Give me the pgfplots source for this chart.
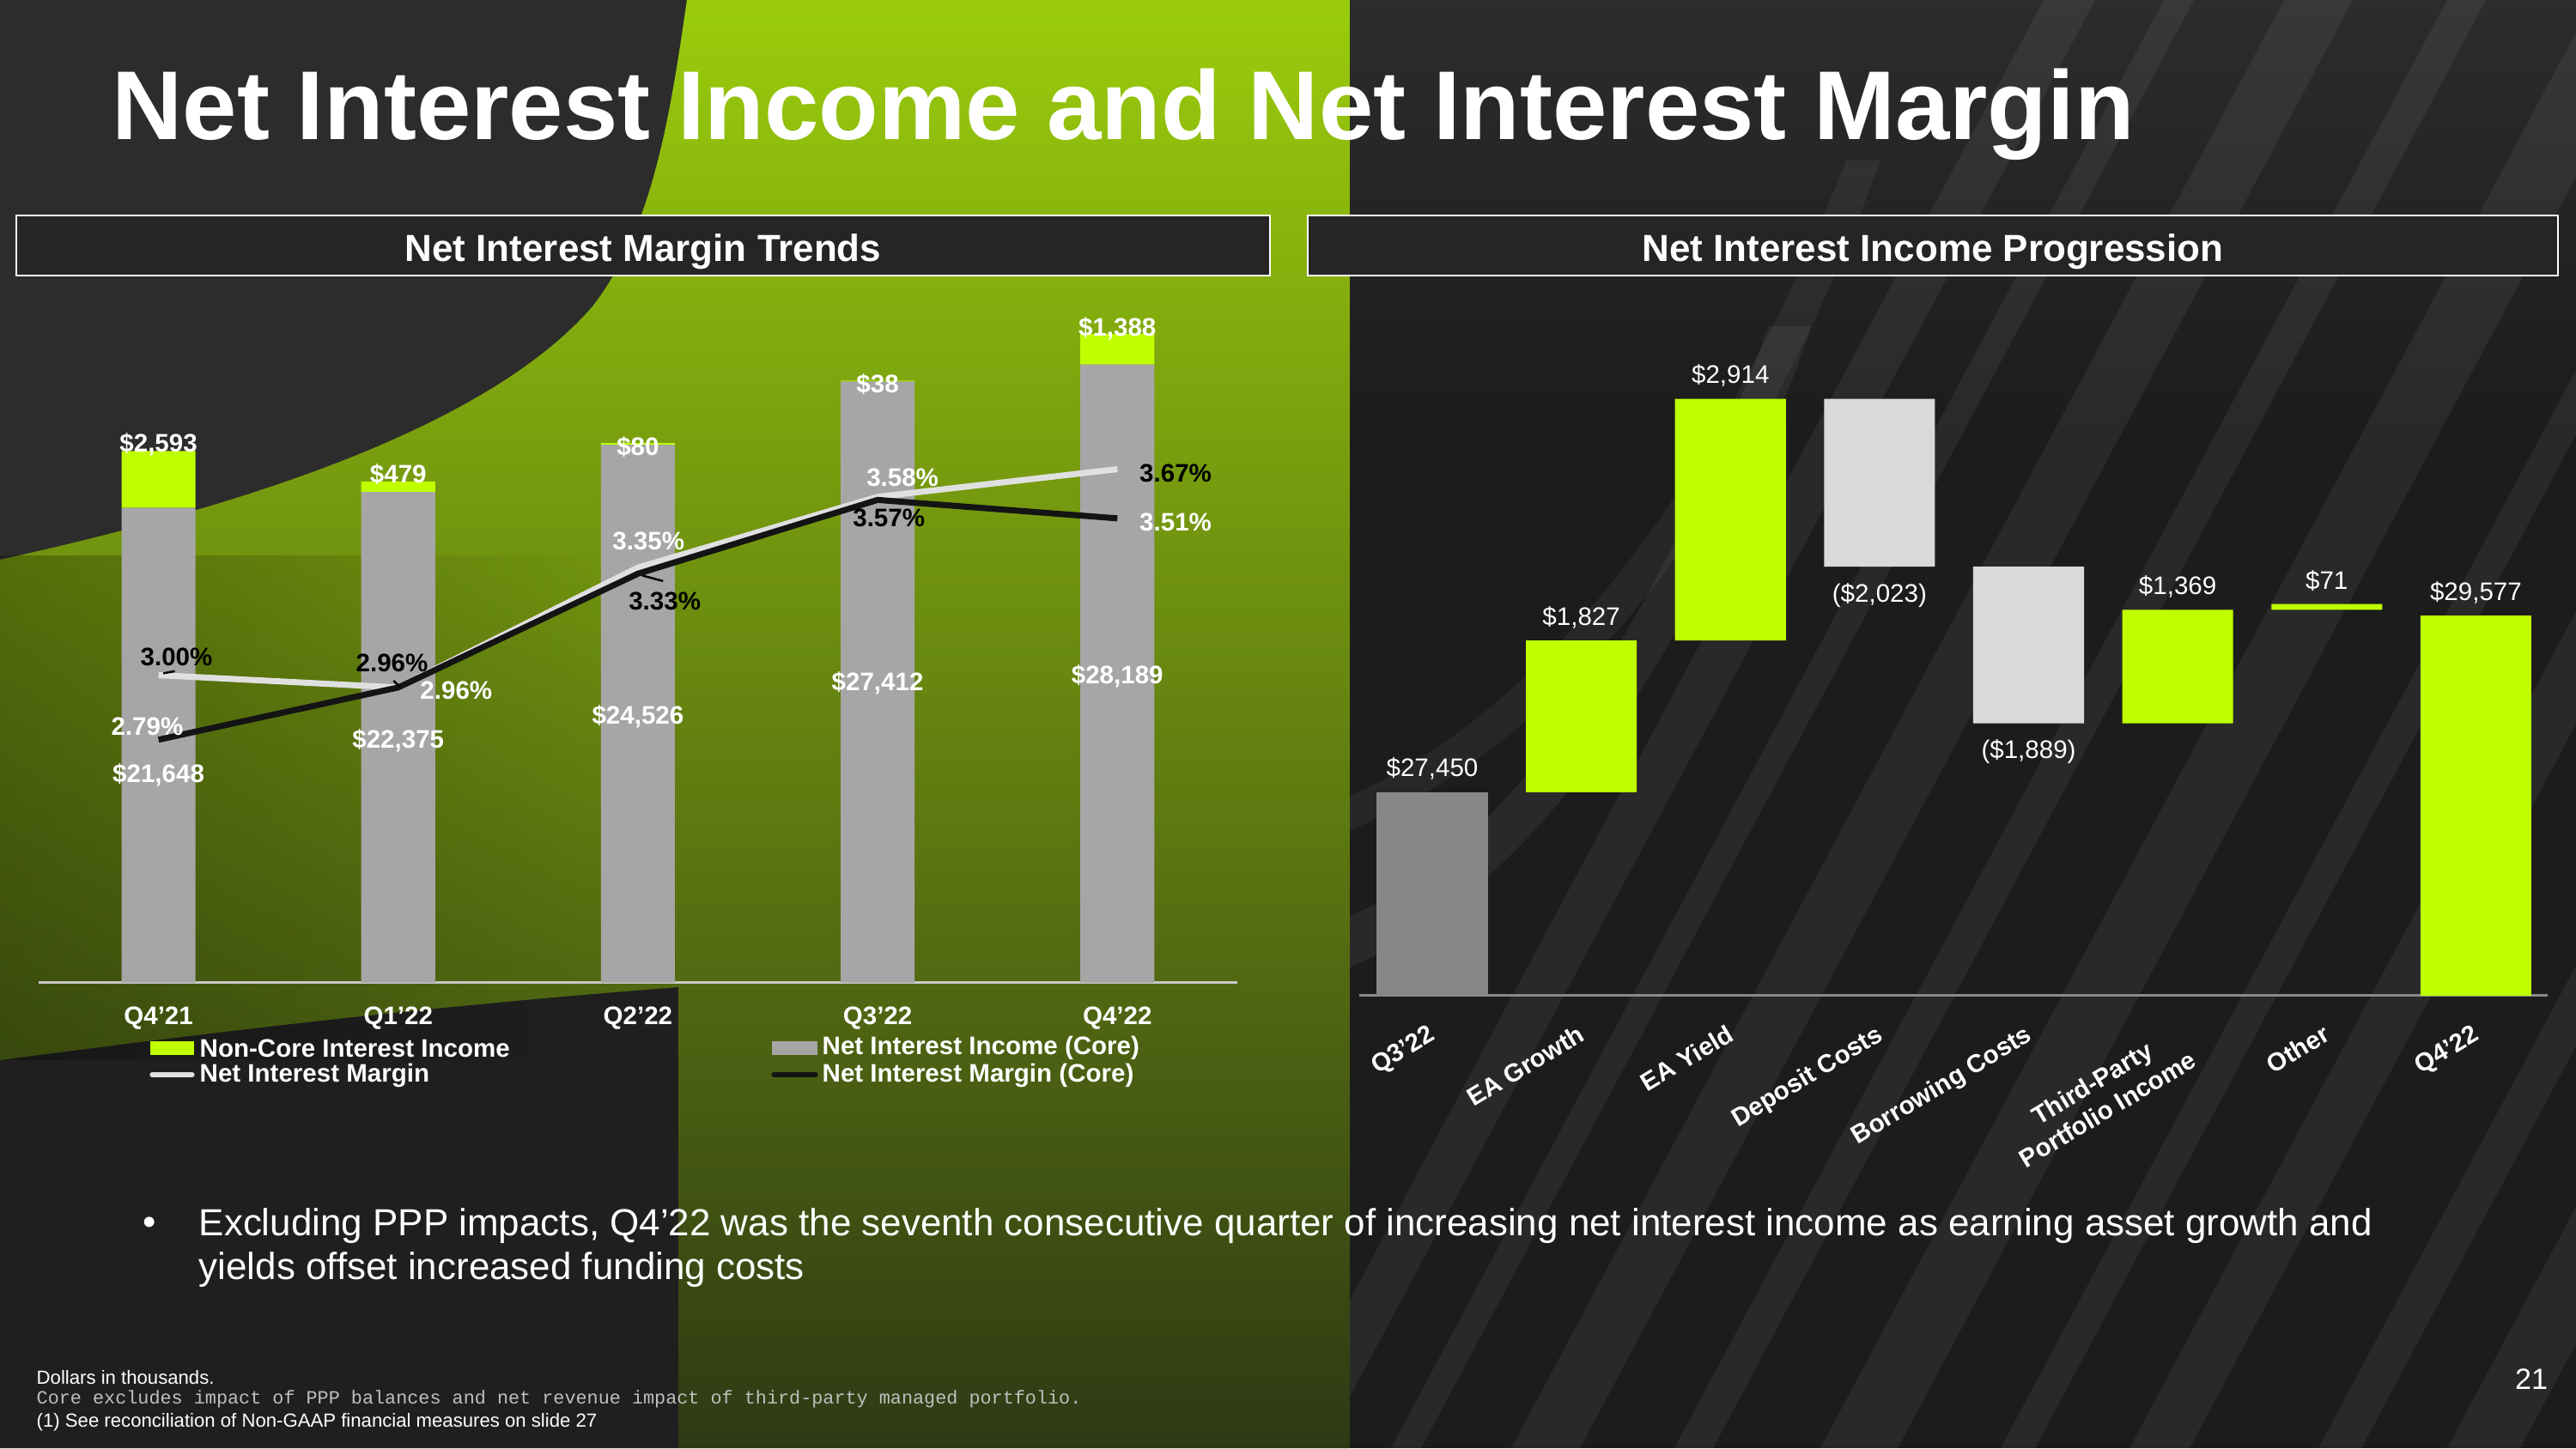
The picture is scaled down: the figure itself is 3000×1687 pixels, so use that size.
\documentclass[border=0pt]{standalone}
\usepackage{pgfplots}
\pgfplotsset{compat=1.18}
\usepackage{fontspec}
\setmainfont{Liberation Sans}
\setmonofont{Liberation Mono}
\usetikzlibrary{fadings}

\definecolor{bgdark}{HTML}{2C2C2C}
\definecolor{bgdeep}{HTML}{1F1F1F}
\definecolor{rdark}{HTML}{1C1C1C}
\definecolor{gtop}{HTML}{9ACC0C}
\definecolor{gmid}{HTML}{5E8A17}
\definecolor{gbot}{HTML}{2E3914}
\definecolor{barGreen}{RGB}{191,255,0}
\definecolor{coreGrey}{HTML}{A6A6A6}
\definecolor{qGrey}{HTML}{878787}
\definecolor{decGrey}{HTML}{D9D9D9}
\definecolor{nimWhite}{HTML}{E0E0E0}
\definecolor{nimBlack}{HTML}{141414}
\definecolor{boxFill}{HTML}{252525}
\definecolor{axisL}{HTML}{C8C8C8}
\definecolor{axisR}{HTML}{8A8A8A}

\newcommand\labfont{\fontsize{8.4}{10}\selectfont\bfseries}
\newcommand\wlabfont{\fontsize{8.4}{10}\selectfont}

\begin{document}
\begin{tikzpicture}[x=0.01cm,y=0.01cm]
\useasboundingbox (0,0) rectangle (3000,1687);
% ---------------- background ----------------
\begin{scope}
\clip (0,0) rectangle (3000,1687);
\fill[bgdark] (0,0) rectangle (3000,1687);
\fill[bgdeep] (0,0) -- (790,0) -- (790,537) .. controls (500,515) and (250,485) .. (0,452) -- cycle;
\shade[top color=gtop, middle color=gmid, bottom color=gbot]
  (800,1687) -- (1572,1687) -- (1572,0) -- (790,0) -- (790,537)
  .. controls (500,515) and (250,485) .. (0,452) -- (0,1035)
  .. controls (250,1090) and (560,1180) .. (690,1330)
  .. controls (760,1420) and (780,1550) .. (800,1687) -- cycle;
\fill[black, opacity=0.25, path fading=east] (0,452) rectangle (700,1040);
% right panel
\fill[rdark] (1572,0) rectangle (3000,1687);
\shade[top color=bgdark, bottom color=rdark] (1572,1180) rectangle (3000,1687);
\begin{scope}
\clip (1572,0) rectangle (3000,1687);
\foreach \x/\w in {1480/60,1620/35,1760/80,1950/45,2120/90,2330/40,2480/70,2700/50,2850/85}{
  \fill[white, opacity=0.06] (\x,0) -- ++(\w,0) -- ++(900,1687) -- ++(-\w,0) -- cycle;
}
\fill[white, opacity=0.06] (1572,620) .. controls (1760,700) and (1930,960) .. (2060,1307)
  -- (2110,1307) .. controls (1980,940) and (1800,660) .. (1572,560) -- cycle;
\fill[white, opacity=0.05] (1572,760) .. controls (1800,860) and (2000,1120) .. (2150,1500)
  -- (2190,1500) .. controls (2040,1090) and (1820,820) .. (1572,720) -- cycle;
\end{scope}
\end{scope}

% ---------------- title and section boxes ----------------
\node[anchor=base west, text=white, inner sep=0pt, font=\fontsize{32.4}{38}\selectfont\bfseries] at (130,1524) {Net Interest Income and Net Interest Margin};
\draw[white, line width=0.8pt, fill=boxFill] (19,1436) rectangle (1479,1366);
\draw[white, line width=0.8pt, fill=boxFill] (1523,1436) rectangle (2979,1366);
\node[text=white, font=\fontsize{12.5}{15}\selectfont\bfseries] at (749,1394) {Net Interest Margin Trends};
\node[text=white, font=\fontsize{12.5}{15}\selectfont\bfseries] at (2251,1394) {Net Interest Income Progression};

% ---------------- left chart: bars ----------------
\begin{axis}[
  at={(0.45cm,5.42cm)}, anchor=south west, scale only axis,
  width=13.95cm, height=7.95cm,
  xmin=-0.5, xmax=4.5, ymin=0, ymax=31140,
  ybar stacked, bar width=0.86cm,
  axis x line=bottom, axis y line=none,
  x axis line style={draw=axisL, line width=0.9pt, -},
  xtick={0,1,2,3,4}, xticklabels={Q4'21,Q1'22,Q2'22,Q3'22,Q4'22},
  xtick style={draw=none}, major tick length=0pt,
  xticklabel style={font=\labfont, text=white, anchor=center, yshift=-11.8pt},
]
\addplot[fill=coreGrey, draw=none] coordinates {(0,21648) (1,22375) (2,24526) (3,27412) (4,28189)};
\addplot[fill=barGreen, draw=none] coordinates {(0,2593) (1,479) (2,80) (3,38) (4,1388)};
\end{axis}

% ---------------- left chart: bar labels ----------------
\begin{axis}[
  at={(0.45cm,5.42cm)}, anchor=south west, scale only axis,
  width=13.95cm, height=7.95cm,
  xmin=-0.5, xmax=4.5, ymin=0, ymax=31140, hide axis, clip=false,
  every node near coord/.style={font=\labfont, text=white, anchor=center, inner sep=0pt},
]
\addplot[draw=none, mark=none, nodes near coords, point meta=explicit symbolic]
  coordinates {(0,24559)[\$2,593] (1,23188)[\$479] (2,24442)[\$80] (3,27301)[\$38] (4,29808)[\$1,388]};
\addplot[draw=none, mark=none, nodes near coords, point meta=explicit symbolic]
  coordinates {(0,9479)[\$21,648] (1,11046)[\$22,375] (2,12142)[\$24,526] (3,13670)[\$27,412] (4,13984)[\$28,189]};
\end{axis}

% ---------------- left chart: margin lines ----------------
\begin{axis}[
  at={(0.45cm,5.42cm)}, anchor=south west, scale only axis,
  width=13.95cm, height=7.95cm,
  xmin=-0.5, xmax=4.5, ymin=2.0, ymax=4.221, hide axis, clip=false,
]
\addplot[nimWhite, line width=2pt, mark=none] coordinates {(0,3.00) (1,2.96) (2,3.35) (3,3.58) (4,3.67)};
\addplot[nimBlack, line width=2pt, mark=none] coordinates {(0,2.79) (1,2.96) (2,3.33) (3,3.57) (4,3.51)};
% label leader lines
\draw[black, line width=0.7pt] (axis cs:0.02,3.006) -- (axis cs:0.068,3.013);
\draw[black, line width=0.7pt] (axis cs:0.981,2.982) -- (axis cs:1.006,2.962);
\draw[black, line width=0.7pt] (axis cs:2.019,3.324) -- (axis cs:2.105,3.306);
\addplot[draw=none, mark=none, nodes near coords, point meta=explicit symbolic,
  every node near coord/.style={font=\labfont, text=black, anchor=center, inner sep=0pt}]
  coordinates {(0.075,3.059)[3.00\%] (0.974,3.039)[2.96\%] (2.112,3.240)[3.33\%] (3.047,3.511)[3.57\%] (4.243,3.657)[3.67\%]};
\addplot[draw=none, mark=none, nodes near coords, point meta=explicit symbolic,
  every node near coord/.style={font=\labfont, text=white, anchor=center, inner sep=0pt}]
  coordinates {(-0.047,2.833)[2.79\%] (1.242,2.950)[2.96\%] (2.044,3.436)[3.35\%] (3.104,3.643)[3.58\%] (4.243,3.497)[3.51\%]};
\end{axis}

% ---------------- left chart: legend ----------------
\fill[barGreen] (175,458) rectangle (226,474);
\node[anchor=west, font=\labfont, text=white, inner sep=0pt] at (232,466) {Non-Core Interest Income};
\draw[nimWhite, line width=1.5pt, line cap=round] (177,435) -- (224,435);
\node[anchor=west, font=\labfont, text=white, inner sep=0pt] at (232,434) {Net Interest Margin};
\fill[coreGrey] (899,458) rectangle (952,474);
\node[anchor=west, font=\labfont, text=white, inner sep=0pt] at (957,466) {Net Interest Income (Core)};
\draw[nimBlack, line width=1.5pt, line cap=round] (901,435) -- (950,435);
\node[anchor=west, font=\labfont, text=white, inner sep=0pt] at (957,434) {Net Interest Margin (Core)};

% ---------------- right chart: waterfall ----------------
\begin{axis}[
  at={(15.82cm,5.27cm)}, anchor=south west, scale only axis,
  width=13.83cm, height=7.60cm,
  xmin=-0.49, xmax=7.48, ymin=25000, ymax=32867,
  ybar stacked, bar width=1.29cm,
  axis x line=bottom, axis y line=none,
  x axis line style={draw=axisR, line width=0.9pt, -},
  xtick={0,1,2,3,4,5,6,7},
  xticklabels={Q3'22,EA Growth,EA Yield,Deposit Costs,Borrowing Costs,{Third-Party\\Portfolio Income},Other,Q4'22},
  xtick style={draw=none}, major tick length=0pt,
  xticklabel style={font=\labfont, text=white, rotate=31, anchor=north east, align=center, inner sep=0pt, yshift=-7pt, xshift=-6pt},
]
\addplot[fill=none, draw=none] coordinates {(0,0) (1,27450) (2,29277) (3,30168) (4,28279) (5,28279) (6,29648) (7,0)};
\addplot[fill=qGrey, draw=none] coordinates {(0,27450) (1,0) (2,0) (3,0) (4,0) (5,0) (6,0) (7,0)};
\addplot[fill=barGreen, draw=none] coordinates {(0,0) (1,1827) (2,2914) (3,0) (4,0) (5,1369) (6,71) (7,29577)};
\addplot[fill=decGrey, draw=none] coordinates {(0,0) (1,0) (2,0) (3,2023) (4,1889) (5,0) (6,0) (7,0)};
\end{axis}

\begin{axis}[
  at={(15.82cm,5.27cm)}, anchor=south west, scale only axis,
  width=13.83cm, height=7.60cm,
  xmin=-0.49, xmax=7.48, ymin=25000, ymax=32867, hide axis, clip=false,
]
\addplot[draw=none, mark=none, nodes near coords, point meta=explicit symbolic,
  every node near coord/.style={font=\wlabfont, text=white, anchor=center, inner sep=0pt, yshift=7.7pt}]
  coordinates {(0,27450)[\$27,450] (1,29277)[\$1,827] (2,32191)[\$2,914] (5,29648)[\$1,369] (6,29719)[\$71] (7,29577)[\$29,577]};
\addplot[draw=none, mark=none, nodes near coords, point meta=explicit symbolic,
  every node near coord/.style={font=\wlabfont, text=white, anchor=center, inner sep=0pt, yshift=-9.4pt}]
  coordinates {(3,30168)[(\$2,023)] (4,28279)[(\$1,889)]};
\end{axis}

% ---------------- bullet and footer ----------------
\node[text=white, font=\fontsize{12.5}{14.5}\selectfont] at (174,259) {•};
\node[anchor=base west, text=white, inner sep=0pt, font=\fontsize{12.5}{14.5}\selectfont] at (231,248) {Excluding PPP impacts, Q4’22 was the seventh consecutive quarter of increasing net interest income as earning asset growth and};
\node[anchor=base west, text=white, inner sep=0pt, font=\fontsize{12.5}{14.5}\selectfont] at (231,197) {yields offset increased funding costs};
\node[anchor=west, text=white, inner sep=0pt, font=\fontsize{6.3}{7.5}\selectfont] at (42,82) {Dollars in thousands.};
\node[anchor=west, text=white!75!black, inner sep=0pt, font=\fontsize{6.2}{7.5}\selectfont\ttfamily] at (42,57) {Core excludes impact of PPP balances and net revenue impact of third-party managed portfolio.};
\node[anchor=west, text=white, inner sep=0pt, font=\fontsize{6.3}{7.5}\selectfont] at (42,30) {(1) See reconciliation of Non-GAAP financial measures on slide 27};
\node[text=white, inner sep=0pt, font=\fontsize{9.7}{11}\selectfont] at (2948,80) {21};
\end{tikzpicture}
\end{document}
